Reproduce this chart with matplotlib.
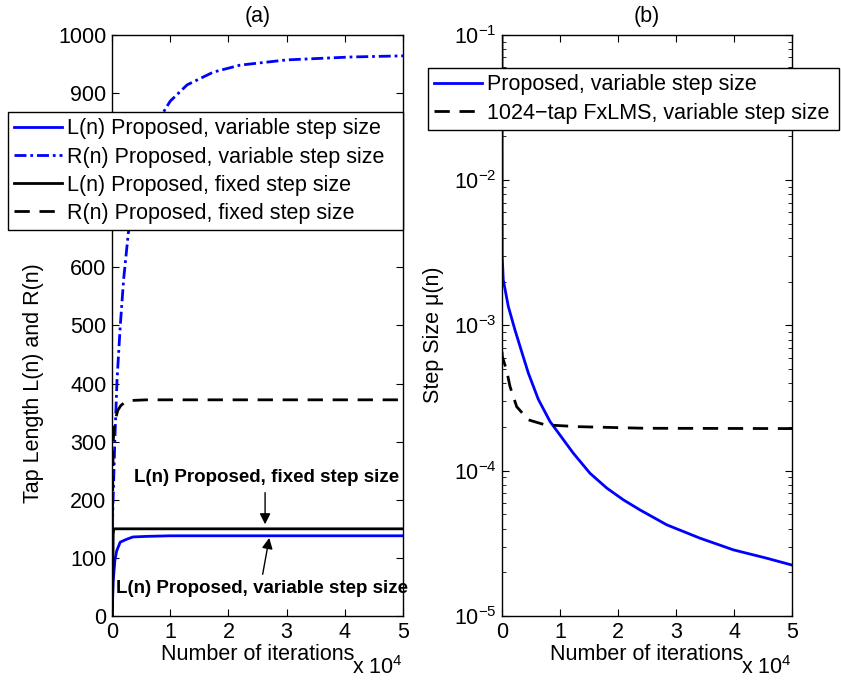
import numpy as np
import matplotlib
matplotlib.use("Agg")
import matplotlib.pyplot as plt
from matplotlib.ticker import FixedLocator, FuncFormatter, LogLocator

plt.rcParams['font.family'] = ['Liberation Sans', 'DejaVu Sans']
plt.rcParams['mathtext.fontset'] = 'custom'
plt.rcParams['mathtext.rm'] = 'Liberation Sans'
plt.rcParams['mathtext.it'] = 'Liberation Sans:italic'
plt.rcParams['mathtext.bf'] = 'Liberation Sans:bold'
plt.rcParams['font.size'] = 15.5

# (a) tap length curves, x in iterations
l_var_n = [0, 200, 500, 800, 1400, 2500, 3600, 6000, 10000, 20000, 50000]
l_var = [0, 60, 96, 112, 127, 132, 136, 137, 138, 138, 138]

r_var_n = [0, 120, 500, 860, 1400, 2000, 2800, 4000, 5500, 7500, 9500, 10000,
           12900, 17400, 22000, 30000, 41000, 50000]
r_var = [0, 177, 308, 406, 497, 580, 659, 730, 790, 845, 878, 886,
         914, 936, 948, 957, 962, 964]

l_fix_n = [0, 100, 200, 300, 400, 50000]
l_fix = [0, 20, 140, 150, 150, 150]

r_fix_n = [0, 100, 200, 300, 500, 700, 1000, 1500, 2200, 3500, 6000, 50000]
r_fix = [0, 200, 298, 318, 332, 343, 354, 362, 368, 371, 372, 372]

# (b) step size curves
mu_var_n = [0, 40, 220, 1090, 2240, 3390, 4540, 6260, 8280, 12290, 15170,
            18050, 20920, 23790, 28400, 34140, 39900, 45600, 50000]
mu_var = [0.12, 3.0e-3, 2.06e-3, 1.35e-3, 9.3e-4, 6.6e-4, 4.7e-4, 3.1e-4,
          2.18e-4, 1.32e-4, 9.6e-5, 7.6e-5, 6.3e-5, 5.37e-5, 4.24e-5,
          3.43e-5, 2.85e-5, 2.5e-5, 2.24e-5]

mu_fx_n = [0, 60, 800, 1380, 2530, 4540, 7410, 13150, 24650, 50000]
mu_fx = [6.6e-4, 6.1e-4, 4.9e-4, 3.8e-4, 2.76e-4, 2.24e-4, 2.07e-4, 2.01e-4,
         1.96e-4, 1.95e-4]

xticks = [0, 10000, 20000, 30000, 40000, 50000]
blue = '#0000FF'

fig = plt.figure(figsize=(8.41, 6.82), dpi=100)
ax1 = fig.add_axes([0.1332, 0.0968, 0.346, 0.852])
ax2 = fig.add_axes([0.5969, 0.0968, 0.345, 0.852])

ax1.plot(l_var_n, l_var, color=blue, lw=2, label='L(n) Proposed, variable step size')
ax1.plot(r_var_n, r_var, color=blue, lw=2, linestyle=(0, (4.3, 1.4, 1, 1.4)),
         label='R(n) Proposed, variable step size')
ax1.plot(l_fix_n, l_fix, color='k', lw=2, label='L(n) Proposed, fixed step size')
ax1.plot(r_fix_n, r_fix, color='k', lw=2, linestyle=(0, (5.5, 3.5)),
         label='R(n) Proposed, fixed step size')

ax1.set_xlim(0, 50000)
ax1.set_ylim(0, 1000)
yt = list(range(0, 1001, 100))
ax1.set_yticks(yt)
# 700 and 800 sit under the legend box
ax1.set_yticklabels(['' if v in (700, 800) else str(v) for v in yt])

ax1.annotate('', xy=(26300, 153), xytext=(26300, 217),
             arrowprops=dict(arrowstyle='-|>', color='k', lw=1, mutation_scale=16))
ax1.text(26600, 239, 'L(n) Proposed, fixed step size', fontsize=13.5,
         fontweight='bold', ha='center', va='center')
ax1.annotate('', xy=(27100, 139), xytext=(25800, 67),
             arrowprops=dict(arrowstyle='-|>', color='k', lw=1, mutation_scale=16))
ax1.text(25800, 48, 'L(n) Proposed, variable step size', fontsize=13.5,
         fontweight='bold', ha='center', va='center')

ax1.set_title('(a)', fontsize=15.5, pad=9)
ax1.set_ylabel('Tap Length L(n) and R(n)')
ax1.yaxis.set_label_coords(-0.235, 0.40)

ax2.semilogy(mu_var_n, mu_var, color=blue, lw=2, label='Proposed, variable step size')
ax2.semilogy(mu_fx_n, mu_fx, color='k', lw=2, linestyle=(0, (5.5, 3.5)),
             label='1024\u2212tap FxLMS, variable step size')
ax2.set_xlim(0, 50000)
ax2.set_ylim(1e-5, 1e-1)
ax2.yaxis.set_major_locator(LogLocator(base=10, numticks=10))
ax2.yaxis.set_minor_locator(LogLocator(base=10, subs=np.arange(2, 10), numticks=20))
ax2.set_title('(b)', fontsize=15.5, pad=9)
ax2.set_ylabel('Step Size \u03bc(n)')
ax2.yaxis.set_label_coords(-0.2, 0.484)

for ax in (ax1, ax2):
    ax.xaxis.set_major_locator(FixedLocator(xticks))
    ax.xaxis.set_major_formatter(FuncFormatter(lambda v, p: '%d' % round(v / 10000)))
    ax.tick_params(which='both', direction='in', top=True, right=True)
    ax.tick_params(which='major', length=5, width=0.8, pad=4)
    ax.tick_params(which='minor', length=3, width=0.6)
    ax.set_xlabel('Number of iterations', labelpad=1)
    ax.text(1.0, -0.088, r'x $10^{4}$', transform=ax.transAxes,
            ha='right', va='center', fontsize=15.5)
    for s in ax.spines.values():
        s.set_linewidth(1.0)

legend_kw = dict(loc='upper left', mode='expand', bbox_transform=fig.transFigure,
                 fancybox=False, framealpha=1, edgecolor='k', handlelength=2.2,
                 handletextpad=0.25, labelspacing=0.33, borderpad=0.3,
                 borderaxespad=0, fontsize=15.5)
leg1 = ax1.legend(bbox_to_anchor=(8 / 841, 1 - 232 / 682, 395 / 841, 120 / 682),
                  **legend_kw)
leg1.get_frame().set_linewidth(1.0)
leg2 = ax2.legend(bbox_to_anchor=(428 / 841, 1 - 132 / 682, 411 / 841, 64 / 682),
                  **legend_kw)
leg2.get_frame().set_linewidth(1.0)

fig.savefig('out.png', dpi=100)
